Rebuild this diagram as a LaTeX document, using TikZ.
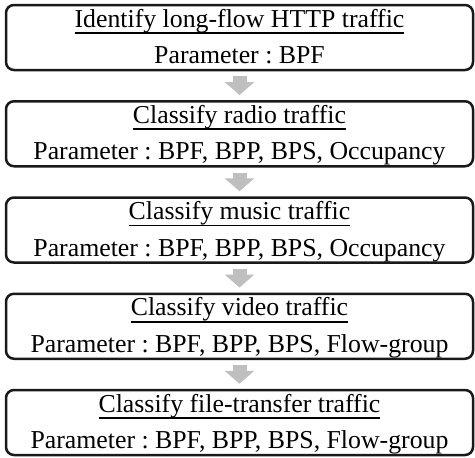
\documentclass[tikz,border=0pt]{standalone}
\usepackage{fontspec}
\setmainfont{Liberation Serif}
\usepackage{tikz}
\usetikzlibrary{positioning,
                arrows.meta}
\frenchspacing

\begin{document}
\begin{tikzpicture}[x=0.5pt,y=0.5pt,
  stage/.style={draw=black!90,line width=1.25pt,rounded corners=4pt,
    minimum width=233.5pt,minimum height=32.5pt,inner sep=0pt,
    align=center,font=\fontsize{12.9}{18.25}\selectfont},
  flow/.style={draw=black!25,line width=7pt,
    -{Triangle[width=14.5pt,length=6.5pt]},
    shorten >=2.5pt,shorten <=2.5pt},
  node distance=14.375pt]
\def\stagetitle#1{\rule{0pt}{10.75pt}\setbox0\hbox{#1}\rlap{\vrule height -2.6pt depth 3.4pt width \wd0}\box0}
\def\param#1{Parameter : #1\rule[-3pt]{0pt}{3pt}}
\useasboundingbox (0,0) rectangle (475,-457);
\node [stage] (http) at (239.5,-37.5) {\stagetitle{Identify long-flow HTTP traffic}\\ \param{BPF}};
\node [stage,below=of http] (radio) {\stagetitle{Classify radio traffic}\\ \param{BPF, BPP, BPS, Occupancy}};
\node [stage,below=of radio] (music) {\stagetitle{Classify music traffic}\\ \param{BPF, BPP, BPS, Occupancy}};
\node [stage,below=of music] (video) {\stagetitle{Classify video traffic}\\ \param{BPF, BPP, BPS, Flow-group}};
\node [stage,below=of video] (file) {\stagetitle{Classify file-transfer traffic}\\ \param{BPF, BPP, BPS, Flow-group}};
\foreach \a/\b in {http/radio,radio/music,music/video,video/file}
  \draw [flow] (\a) -- (\b);
\end{tikzpicture}
\end{document}
